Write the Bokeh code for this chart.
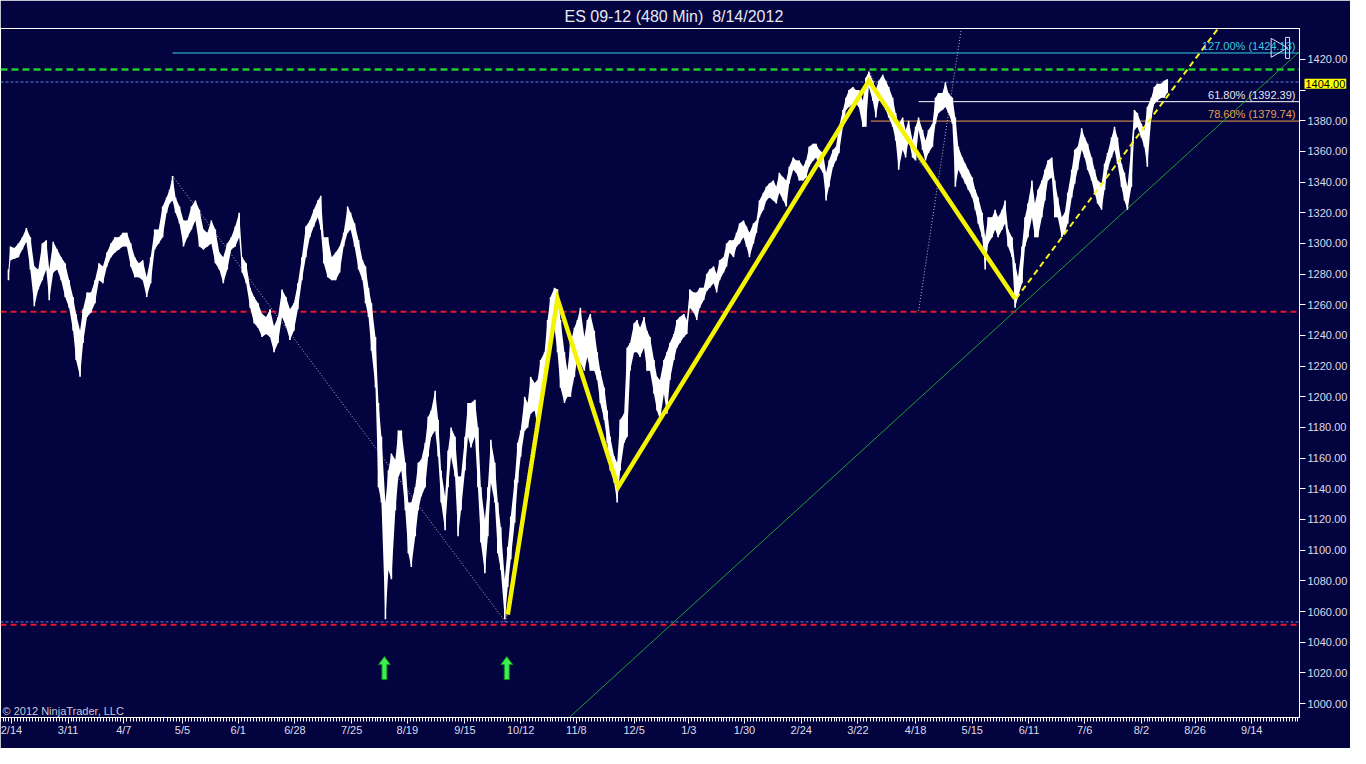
import numpy as np
from bokeh.plotting import figure
from bokeh.models import Range1d, FixedTicker, Label, PrintfTickFormatter
from bokeh.embed import file_html
from bokeh.resources import INLINE

# ---------------- data ----------------
title_text = "ES 09-12 (480 Min)\u00a0 8/14/2012"
copyright_text = "\u00a9 2012 NinjaTrader, LLC"

date_labels = ["2/14", "3/11", "4/7", "5/5", "6/1", "6/28", "7/25", "8/19", "9/15", "10/12",
               "11/8", "12/5", "1/3", "1/30", "2/24", "3/22", "4/18", "5/15", "6/11", "7/6",
               "8/2", "8/26", "9/14"]
date_bar = [11, 68, 124, 183, 239, 296, 353, 409, 467, 523, 579, 637, 692, 748, 805, 862,
            920, 977, 1034, 1090, 1147, 1201, 1258]
price_ticks = [1000, 1020, 1040, 1060, 1080, 1100, 1120, 1140, 1160, 1180, 1200, 1220, 1240,
               1260, 1280, 1300, 1320, 1340, 1360, 1380, 1400, 1420]

bar_x = [8, 10, 14, 18, 22, 26, 30, 34, 38, 42, 46, 49, 53, 57, 61, 65, 69, 73, 76, 80,
         83, 87, 91, 95, 99, 103, 107, 111, 115, 119, 123, 127, 131, 135, 139, 143, 147, 151, 155, 159,
         163, 167, 170, 173, 176, 180, 184, 188, 192, 196, 200, 204, 208, 212, 216, 220, 224, 228, 232, 236,
         240, 243, 247, 251, 255, 259, 263, 267, 271, 275, 279, 283, 287, 291, 295, 299, 303, 307, 311, 315,
         319, 322, 325, 329, 333, 337, 341, 345, 349, 352, 356, 360, 364, 367, 370, 373,
         377, 380, 383, 387, 390, 393, 397, 400, 403, 407, 410, 413, 417, 420, 423, 427, 430, 433, 437, 440,
         443, 447, 450, 453, 457, 460, 463, 467, 470, 473, 477, 480, 483, 487, 490, 493, 497, 500, 503, 507,
         510, 513, 517, 520, 523, 527, 530, 533, 537, 540, 543, 547, 550, 553, 557, 560, 563, 567, 570, 573,
         577, 580, 583, 587, 590, 593, 597, 600, 603, 607, 610, 613, 617, 620, 623, 627, 630, 633, 637, 640,
         643, 647, 650, 653,
         657, 660, 663, 667, 670, 673, 677, 680, 683, 687, 690, 693, 697, 700, 703, 707, 710, 713, 717, 720,
         723, 727, 730, 733, 737, 740, 743, 747, 750, 753, 757, 760, 763, 767, 770, 773, 777, 780, 783, 787,
         790, 793, 797, 800, 803, 807, 810, 813, 817, 820, 823, 827, 830, 833, 837, 840, 843, 847, 850, 853,
         857, 860, 863, 867, 870, 873, 877, 880, 883, 887, 890,
         893, 897, 900, 903, 907, 910, 913, 917, 920, 923, 927, 930, 933, 937, 940, 943, 947, 950, 953, 957,
         960, 963, 967, 970, 973, 977, 980, 983, 987, 990, 993, 997, 1000, 1003, 1007, 1010, 1013, 1017, 1020, 1023,
         1027, 1030, 1033, 1037, 1040, 1043, 1047, 1050, 1053, 1057, 1060, 1063, 1067, 1070, 1073, 1077, 1080, 1083, 1087, 1090,
         1093, 1097, 1100, 1103, 1107, 1110, 1113, 1117, 1120, 1123, 1127, 1130, 1133, 1137, 1140, 1143, 1147, 1150, 1153, 1157,
         1160, 1163, 1167, 1170, 1173]

bar_high = [1283, 1298, 1297, 1300, 1304, 1310, 1304, 1285, 1283, 1300, 1302, 1283, 1301, 1296, 1291, 1287, 1276, 1265, 1254, 1243,
            1257, 1268, 1268, 1276, 1287, 1285, 1294, 1300, 1304, 1304, 1307, 1307, 1300, 1291, 1287, 1289, 1278, 1291, 1309, 1309,
            1324, 1330, 1335, 1344, 1330, 1324, 1315, 1315, 1324, 1328, 1322, 1309, 1307, 1315, 1309, 1294, 1291, 1300, 1304, 1311,
            1320, 1291, 1287, 1271, 1265, 1261, 1254, 1252, 1257, 1246, 1252, 1270, 1265, 1257, 1261, 1274, 1291, 1311, 1315, 1322,
            1328, 1331, 1304, 1304, 1291, 1294, 1298, 1307, 1324, 1320, 1313, 1302, 1289, 1285, 1271, 1261,
            1239, 1196, 1174, 1131, 1152, 1163, 1159, 1178, 1178, 1157, 1131, 1131, 1141, 1157, 1159, 1170, 1187, 1191, 1204, 1185,
            1152, 1135, 1165, 1180, 1174, 1148, 1148, 1174, 1196, 1196, 1198, 1180, 1141, 1120, 1141, 1172, 1157, 1131, 1115, 1081,
            1102, 1122, 1146, 1170, 1178, 1200, 1196, 1213, 1209, 1211, 1224, 1229, 1250, 1265, 1271, 1270, 1250, 1229, 1217, 1235,
            1245, 1250, 1258, 1239, 1250, 1254, 1243, 1229, 1217, 1206, 1191, 1174, 1161, 1157, 1185, 1189, 1232, 1235, 1248, 1250,
            1245, 1252, 1243, 1239,
            1224, 1213, 1211, 1224, 1229, 1235, 1241, 1250, 1252, 1254, 1250, 1270, 1268, 1268, 1271, 1271, 1280, 1283, 1285, 1280,
            1289, 1291, 1300, 1302, 1302, 1307, 1313, 1315, 1311, 1307, 1313, 1315, 1328, 1333, 1337, 1339, 1341, 1337, 1346, 1343,
            1341, 1350, 1356, 1354, 1354, 1350, 1354, 1363, 1365, 1365, 1361, 1359, 1346, 1354, 1361, 1363, 1376, 1387, 1395, 1400,
            1402, 1400, 1400, 1393, 1408, 1412, 1406, 1400, 1406, 1410, 1406,
            1402, 1395, 1385, 1378, 1382, 1374, 1380, 1367, 1376, 1382, 1374, 1367, 1374, 1378, 1395, 1398, 1398, 1405, 1398, 1395,
            1382, 1363, 1356, 1352, 1348, 1343, 1335, 1330, 1320, 1304, 1317, 1317, 1322, 1317, 1322, 1328, 1309, 1304, 1287, 1278,
            1298, 1317, 1326, 1341, 1326, 1335, 1341, 1348, 1354, 1356, 1341, 1330, 1317, 1320, 1333, 1348, 1361, 1363, 1375, 1369,
            1365, 1356, 1348, 1341, 1339, 1352, 1359, 1369, 1376, 1369, 1352, 1346, 1337, 1363, 1387, 1385, 1378, 1374, 1389, 1395,
            1402, 1404, 1404, 1406, 1407]

bar_low = [1276, 1289, 1290, 1291, 1296, 1301, 1283, 1259, 1270, 1276, 1283, 1263, 1281, 1283, 1276, 1265, 1258, 1243, 1224, 1213,
           1235, 1252, 1255, 1261, 1276, 1274, 1285, 1291, 1294, 1296, 1298, 1298, 1285, 1278, 1278, 1276, 1265, 1274, 1296, 1300,
           1304, 1320, 1326, 1328, 1320, 1313, 1298, 1304, 1309, 1315, 1298, 1296, 1298, 1300, 1287, 1283, 1274, 1283, 1296, 1298,
           1304, 1281, 1274, 1258, 1248, 1245, 1239, 1241, 1239, 1229, 1235, 1252, 1246, 1237, 1243, 1257, 1276, 1291, 1304, 1311,
           1317, 1309, 1287, 1278, 1276, 1276, 1281, 1298, 1307, 1309, 1298, 1283, 1276, 1261, 1252, 1230,
           1206, 1141, 1131, 1055, 1087, 1081, 1126, 1148, 1152, 1126, 1098, 1089, 1109, 1126, 1135, 1141, 1161, 1174, 1178, 1161,
           1131, 1113, 1141, 1161, 1148, 1109, 1126, 1152, 1174, 1167, 1174, 1141, 1105, 1085, 1109, 1144, 1131, 1098, 1087, 1055,
           1076, 1094, 1118, 1144, 1161, 1178, 1180, 1189, 1191, 1180, 1200, 1211, 1229, 1239, 1245, 1229, 1206, 1196, 1200, 1200,
           1213, 1226, 1222, 1217, 1226, 1217, 1217, 1211, 1196, 1185, 1170, 1152, 1144, 1131, 1152, 1170, 1174, 1217, 1229, 1229,
           1226, 1232, 1217, 1217,
           1202, 1191, 1185, 1202, 1189, 1211, 1224, 1232, 1235, 1239, 1241, 1258, 1255, 1250, 1258, 1263, 1269, 1271, 1274, 1268,
           1276, 1281, 1285, 1294, 1291, 1298, 1300, 1304, 1298, 1291, 1300, 1307, 1317, 1322, 1328, 1330, 1328, 1326, 1333, 1328,
           1324, 1339, 1348, 1346, 1341, 1341, 1343, 1350, 1354, 1356, 1350, 1346, 1328, 1337, 1350, 1354, 1359, 1376, 1387, 1389,
           1391, 1391, 1389, 1376, 1376, 1402, 1393, 1382, 1393, 1393, 1387,
           1382, 1376, 1367, 1348, 1361, 1356, 1367, 1356, 1354, 1374, 1361, 1354, 1359, 1363, 1378, 1385, 1387, 1389, 1385, 1378,
           1337, 1348, 1343, 1339, 1335, 1330, 1322, 1313, 1304, 1283, 1300, 1304, 1309, 1304, 1309, 1313, 1298, 1291, 1258, 1265,
           1274, 1298, 1304, 1317, 1304, 1304, 1317, 1328, 1341, 1343, 1317, 1317, 1304, 1307, 1313, 1330, 1339, 1348, 1361, 1356,
           1348, 1341, 1333, 1326, 1322, 1335, 1348, 1356, 1361, 1352, 1337, 1328, 1322, 1337, 1374, 1376, 1369, 1363, 1350, 1382,
           1391, 1393, 1395, 1395, 1398]

# swing zigzag (yellow)
zigzag_x = [510, 560, 621, 873, 1020]
zigzag_y = [1058, 1264, 1141, 1406, 1264]

# projected swing (yellow dashed)
proj_x = [1021, 1224]
proj_y = [1264, 1440]

# rising trend line (green)
trend_x = [572, 1306]
trend_y = [991, 1425]

# thin dotted guide lines (start/end points)
guide_x0 = [173, 508, 923, 874]
guide_y0 = [1344, 1053, 1256, 1411]
guide_x1 = [508, 558, 966, 926]
guide_y1 = [1053, 1268, 1440, 1351]

# Fibonacci levels
fib_levels = [1424.13, 1392.39, 1379.74]
fib_start = [173, 923, 875]
fib_labels = ["127.00% (1424.13)", "61.80% (1392.39)", "78.60% (1379.74)"]
fib_colors = ["#3cd2e6", "#ffffff", "#f0a050"]
fib_text_colors = ["#3cc8e6", "#e6e6f0", "#e8a050"]

# horizontal support / resistance levels
support_levels = [1255.5, 1051.4]        # red dashed
swing_levels = [1405.2, 1053.2]          # blue thin dashed
resistance_level = 1413.4                # green dashed
last_price = 1404.00

# entry arrows (green)
arrow_x = [386, 509]
arrow_tip = 1030.6

# ---------------- figure ----------------
BG = "#03033f"
FONT = "Liberation Sans"
X0, X1 = 0, 1306
Y0, Y1 = 990.9, 1440.1
px_per_pt = 690 / (Y1 - Y0)

p = figure(width=1350, height=748, x_range=Range1d(X0, X1), y_range=Range1d(Y0, Y1),
           output_backend="svg", toolbar_location=None, tools="",
           y_axis_location="right",
           background_fill_color=BG, border_fill_color=BG,
           min_border_left=0, min_border_right=50, min_border_top=28, min_border_bottom=30)
p.grid.visible = False
p.outline_line_color = "#ffffff"
p.outline_line_width = 1

p.title.text = title_text
p.title.align = "left"
p.title.offset = 564
p.title.text_font = FONT
p.title.text_font_size = "16px"
p.title.text_font_style = "normal"
p.title.text_color = "#e8e8f2"
p.title.standoff = 7

# x axis
minor = []
for a, b in zip(date_bar[:-1], date_bar[1:]):
    minor.extend(np.linspace(a, b, 20)[1:-1].tolist())
minor.extend(np.linspace(0, date_bar[0], 5)[:-1].tolist())
minor.extend(np.arange(date_bar[-1] + 2.9, X1, 2.9).tolist())
xa = p.xaxis[0]
xa.ticker = FixedTicker(ticks=date_bar, minor_ticks=minor)
xa.major_label_overrides = {b: l for b, l in zip(date_bar, date_labels)}
xa.axis_line_color = "#ffffff"
xa.major_tick_line_color = "#ffffff"
xa.minor_tick_line_color = "#ffffff"
xa.major_tick_out = 6
xa.major_tick_in = 0
xa.minor_tick_out = 4
xa.minor_tick_in = 0
xa.major_label_standoff = 0
xa.major_label_text_font = FONT
xa.major_label_text_font_size = "11px"
xa.major_label_text_color = "#dcdce8"

ya = p.yaxis[0]
ya.ticker = FixedTicker(ticks=price_ticks)
ya.formatter = PrintfTickFormatter(format="%.2f")
ya.major_label_overrides = {1400: ""}   # hidden behind the last-price marker
ya.axis_line_color = "#ffffff"
ya.major_tick_line_color = "#ffffff"
ya.major_tick_out = 6
ya.major_tick_in = 0
ya.minor_tick_line_color = None
ya.major_label_standoff = 2
ya.major_label_text_font = FONT
ya.major_label_text_font_size = "11px"
ya.major_label_text_color = "#dcdce8"

# horizontal levels
p.segment(x0=[X0] * len(support_levels), x1=[X1] * len(support_levels),
          y0=support_levels, y1=support_levels,
          line_color="#e8152d", line_width=2, line_dash="6 4")
p.segment(x0=[X0] * len(swing_levels), x1=[X1] * len(swing_levels),
          y0=swing_levels, y1=swing_levels,
          line_color="#5f80f0", line_width=1, line_dash="3 2")
p.segment(x0=[X0], x1=[X1], y0=[resistance_level], y1=[resistance_level],
          line_color="#22d02a", line_width=2.5, line_dash="7 4")
p.segment(x0=fib_start, x1=[X1] * 3, y0=fib_levels, y1=fib_levels,
          line_color=fib_colors, line_width=1)

# dotted guides
p.segment(x0=guide_x0, y0=guide_y0, x1=guide_x1, y1=guide_y1,
          line_color="#b8b8d0", line_width=1, line_dash="1 2")

# green trend line
p.line(trend_x, trend_y, line_color="#1f9f2a", line_width=1)

# price bars: continuous high/low band plus individual bar strokes
p.varea(x=bar_x, y1=bar_low, y2=bar_high, fill_color="#ffffff")
p.segment(x0=bar_x, x1=bar_x, y0=bar_low, y1=bar_high, line_color="#ffffff", line_width=1.6)

# zigzag and projection
p.line(zigzag_x, zigzag_y, line_color="#f4f400", line_width=4.5, line_join="miter")
p.line(proj_x, proj_y, line_color="#f4f420", line_width=2, line_dash="6 4")

# fib labels
for lvl, lab, col in zip(fib_levels, fib_labels, fib_text_colors):
    p.add_layout(Label(x=X1, y=lvl, x_offset=-4, text=lab, text_align="right",
                       text_baseline="bottom", y_offset=1, text_font=FONT,
                       text_font_size="11px", text_color=col))

# scroll icons near top right
p.scatter(x=[1283], y=[1427.5], marker="triangle", angle=-np.pi / 2, size=19,
          fill_color=None, line_color="#e0e0f0", line_width=1)
p.quad(left=[1292], right=[1296], bottom=[1420.6], top=[1434.3],
       fill_color=None, line_color="#e0e0f0", line_width=1)

# green arrows
hw, sw = 6.0, 2.5
head_h, tot_h = 8 / px_per_pt, 23 / px_per_pt
axs, ays = [], []
for ax in arrow_x:
    tip = arrow_tip
    axs.append([ax, ax + hw, ax + sw, ax + sw, ax - sw, ax - sw, ax - hw])
    ays.append([tip, tip - head_h, tip - head_h, tip - tot_h, tip - tot_h, tip - head_h, tip - head_h])
p.patches(axs, ays, fill_color="#3cf050", line_color="#108a20", line_width=1)

# copyright
p.add_layout(Label(x=2, y=Y0 + 4.1, text=copyright_text, text_baseline="middle",
                   text_font=FONT, text_font_size="11px", text_color="#c8c8d8"))

# last price marker on the price axis (side-panel label, drawn at data coordinates)
p.add_layout(Label(x=X1, y=last_price, x_offset=5, text="%.2f" % last_price,
                   text_baseline="middle", text_font=FONT, text_font_size="11px",
                   text_color="#000000", background_fill_color="#ffff00", padding=1), "below")

open("out.html", "w").write(file_html(p, INLINE))
